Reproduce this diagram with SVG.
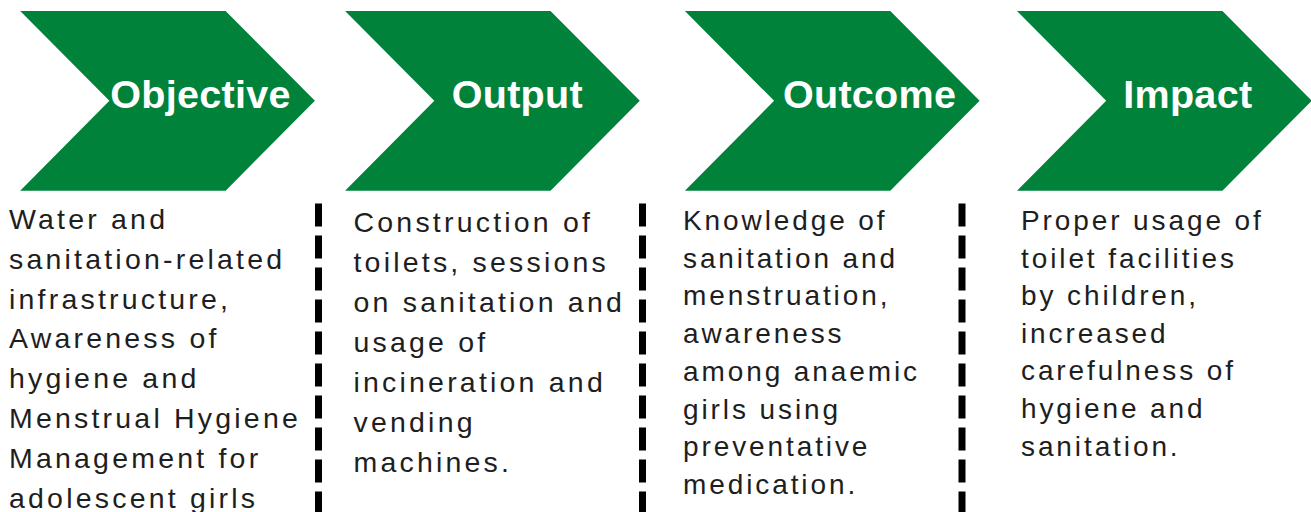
<svg xmlns="http://www.w3.org/2000/svg" width="1311" height="512" viewBox="0 0 1311 512">
<defs>
<style>
.chev{fill:#00823B}
.title{font-family:"Liberation Sans",Arial,sans-serif;font-weight:bold;font-size:39.5px;letter-spacing:0.3px;fill:#ffffff;text-anchor:middle}
.body{font-family:"Liberation Sans",Arial,sans-serif;font-size:28.5px;letter-spacing:3.2px;fill:#1e1e1e}
.body2{font-family:"Liberation Sans",Arial,sans-serif;font-size:28px;letter-spacing:2.9px;fill:#1e1e1e}
.sep{stroke:#000000;stroke-width:7;stroke-dasharray:23 9;fill:none}
</style>
<polygon id="chevron" class="chev" points="0,11 205.4,11 294.7,100.8 205.4,190.7 0,190.7 89.2,100.8"/>
</defs>
<rect width="1311" height="512" fill="#ffffff"/>
<g id="objective">
<use href="#chevron" x="20.2"/>
<text class="title" x="200.5" y="107.5">Objective</text>
<text class="body" x="9">
<tspan x="9" y="229">Water and</tspan>
<tspan x="9" y="268.8">sanitation-related</tspan>
<tspan x="9" y="308.6">infrastructure,</tspan>
<tspan x="9" y="348.4">Awareness of</tspan>
<tspan x="9" y="388.2">hygiene and</tspan>
<tspan x="9" y="428">Menstrual Hygiene</tspan>
<tspan x="9" y="467.8">Management for</tspan>
<tspan x="9" y="507.6">adolescent girls</tspan>
</text>
</g>
<g id="output">
<use href="#chevron" x="345.1"/>
<text class="title" x="517.3" y="107.5">Output</text>
<text class="body" x="353.5">
<tspan x="353.5" y="231.7">Construction of</tspan>
<tspan x="353.5" y="271.7">toilets, sessions</tspan>
<tspan x="353.5" y="311.7">on sanitation and</tspan>
<tspan x="353.5" y="351.7">usage of</tspan>
<tspan x="353.5" y="391.7">incineration and</tspan>
<tspan x="353.5" y="431.7">vending</tspan>
<tspan x="353.5" y="471.7">machines.</tspan>
</text>
</g>
<g id="outcome">
<use href="#chevron" x="684.9"/>
<text class="title" x="869.6" y="107.5">Outcome</text>
<text class="body2" x="683">
<tspan x="683" y="230">Knowledge of</tspan>
<tspan x="683" y="267.7">sanitation and</tspan>
<tspan x="683" y="305.4">menstruation,</tspan>
<tspan x="683" y="343.1">awareness</tspan>
<tspan x="683" y="380.8">among anaemic</tspan>
<tspan x="683" y="418.5">girls using</tspan>
<tspan x="683" y="456.2">preventative</tspan>
<tspan x="683" y="493.9">medication.</tspan>
</text>
</g>
<g id="impact">
<use href="#chevron" x="1017"/>
<text class="title" x="1187.8" y="107.5">Impact</text>
<text class="body2" x="1021">
<tspan x="1021" y="230">Proper usage of</tspan>
<tspan x="1021" y="267.6">toilet facilities</tspan>
<tspan x="1021" y="305.2">by children,</tspan>
<tspan x="1021" y="342.8">increased</tspan>
<tspan x="1021" y="380.4">carefulness of</tspan>
<tspan x="1021" y="418">hygiene and</tspan>
<tspan x="1021" y="455.6">sanitation.</tspan>
</text>
</g>
<g id="connectors">
<line class="sep" x1="318.5" y1="203.5" x2="318.5" y2="512"/>
<line class="sep" x1="642.5" y1="203.5" x2="642.5" y2="512"/>
<line class="sep" x1="962" y1="203.5" x2="962" y2="512"/>
</g>
</svg>
